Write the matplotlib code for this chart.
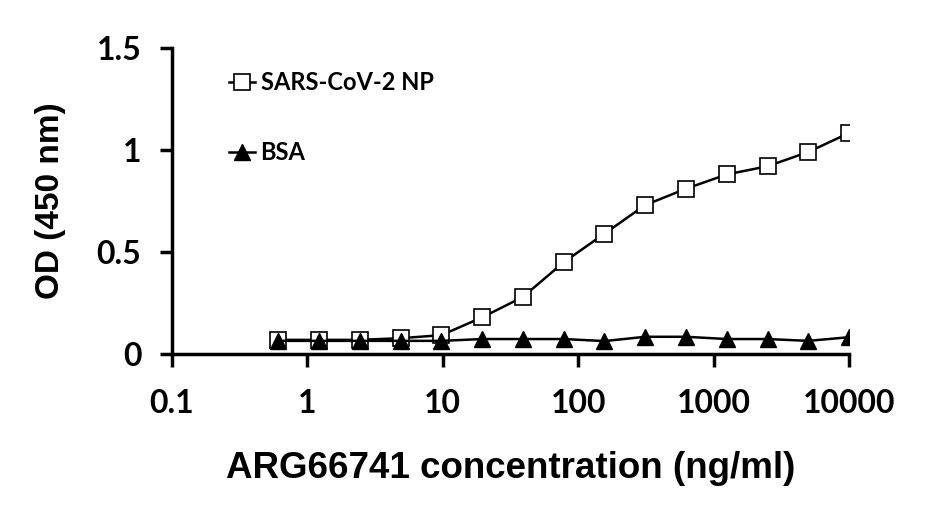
import matplotlib.pyplot as plt
import matplotlib.ticker as mticker

plt.rcParams['font.family'] = ['Lato', 'DejaVu Sans']
plt.rcParams['font.weight'] = 'bold'

# concentrations (ng/ml), 2-fold dilutions
conc = [10000, 5000, 2500, 1250, 625, 312.5, 156.25, 78.13, 39.06,
        19.53, 9.77, 4.88, 2.44, 1.22, 0.61]
np_od = [1.083, 0.99, 0.92, 0.88, 0.81, 0.73, 0.59, 0.45, 0.28,
         0.18, 0.093, 0.078, 0.07, 0.07, 0.07]
bsa_od = [0.083, 0.065, 0.074, 0.074, 0.085, 0.085, 0.064, 0.074, 0.074,
          0.074, 0.065, 0.065, 0.065, 0.065, 0.065]

x_ticks = [0.1, 1, 10, 100, 1000, 10000]
x_labels = ['0.1', '1', '10', '100', '1000', '10000']
y_ticks = [0, 0.5, 1, 1.5]
y_labels = ['0', '0.5', '1', '1.5']

fig = plt.figure(figsize=(9.29, 5.14), dpi=100)
ax = fig.add_axes([0.185, 0.311, 0.729, 0.596])

ax.plot(conc, np_od, color='black', lw=1.8, marker='s', markersize=12,
        markerfacecolor='white', markeredgecolor='black', markeredgewidth=1.2,
        label='SARS-CoV-2 NP', zorder=3)
ax.plot(conc, bsa_od, color='black', lw=1.8, marker='^', markersize=11,
        markerfacecolor='black', markeredgecolor='black',
        label='BSA', zorder=4)

ax.set_xscale('log')
ax.set_xlim(0.1, 10000)
ax.set_ylim(0, 1.5)
ax.set_xticks(x_ticks)
ax.set_xticklabels(x_labels)
ax.xaxis.set_minor_locator(mticker.NullLocator())
ax.set_yticks(y_ticks)
ax.set_yticklabels(y_labels)

for s in ['top', 'right']:
    ax.spines[s].set_visible(False)
for s in ['left', 'bottom']:
    ax.spines[s].set_linewidth(2.5)
ax.tick_params(axis='both', direction='out', length=9, width=2.5,
               labelsize=23)
ax.tick_params(axis='y', pad=13)
ax.tick_params(axis='x', pad=16)

arial = ['Liberation Sans', 'DejaVu Sans']
ax.set_xlabel('ARG66741 concentration (ng/ml)', fontsize=26.5, fontweight='bold',
              family=arial, labelpad=24)
ax.set_ylabel('OD (450 nm)', fontsize=24, fontweight='bold', family=arial,
              labelpad=22)

ax.legend(loc='upper left', bbox_to_anchor=(0.07, 0.955), frameon=False,
          prop={'size': 17, 'weight': 'bold'},
          handlelength=1.1, handletextpad=0.25, labelspacing=2.0,
          borderaxespad=0)

fig.savefig('out.png', dpi=100)
